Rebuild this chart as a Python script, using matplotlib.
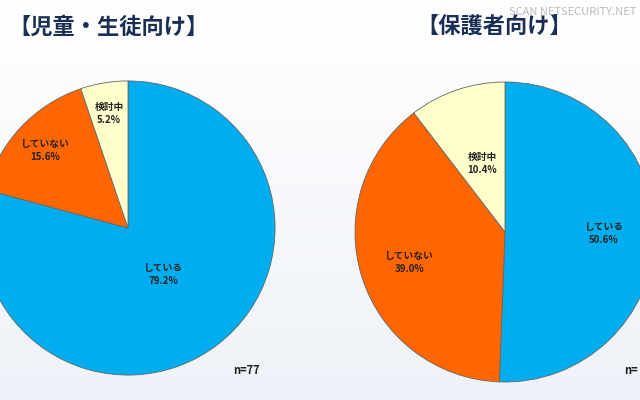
import numpy as np
import matplotlib
matplotlib.use("Agg")
import matplotlib.pyplot as plt

plt.rcParams["font.family"] = "Noto Sans CJK JP"

categories = ["している", "していない", "検討中"]
student_vals = [79.2, 15.6, 5.2]
parent_vals = [50.6, 39.0, 10.4]
student_n = "n=77"
parent_n = "n="
colors = ["#00AEEF", "#FF6600", "#FFFFCC"]

fig = plt.figure(figsize=(6.4, 4.0), dpi=100)
bg = fig.add_axes([0, 0, 1, 1], zorder=-10)
grad = np.linspace(0, 1, 256).reshape(-1, 1)
bg.imshow(grad, aspect="auto", cmap=matplotlib.colors.LinearSegmentedColormap.from_list("g", ["#FFFFFF", "#EEF2F8"]), extent=[0, 1, 0, 1])
bg.axis("off")

def px_axes(cx, cy, r):
    return fig.add_axes([(cx - r) / 640, (400 - cy - r) / 400, 2 * r / 640, 2 * r / 400])

def draw(ax, vals, dists):
    wedges, _ = ax.pie(vals, colors=colors, startangle=90, counterclock=False,
                       wedgeprops=dict(edgecolor="#666666", linewidth=0.6))
    for w, cat, v, d in zip(wedges, categories, vals, dists):
        ang = np.deg2rad((w.theta1 + w.theta2) / 2)
        ax.text(d * np.cos(ang), d * np.sin(ang), f"{cat}\n{v:.1f}%", ha="center", va="center",
                fontsize=7, fontweight="bold", color="#222222", linespacing=1.4)
    ax.set_xlim(-1.02, 1.02); ax.set_ylim(-1.02, 1.02)
    ax.set_aspect("equal")

ax1 = px_axes(128, 228, 150)
draw(ax1, student_vals, [0.4, 0.77, 0.79])
ax2 = px_axes(505, 232, 153)
draw(ax2, parent_vals, [0.66, 0.67, 0.48])

fig.text(8 / 640, 1 - 27 / 400, "【児童・生徒向け】", fontsize=16, fontweight="bold", color="#1A2F55", va="center")
fig.text(416 / 640, 1 - 27 / 400, "【保護者向け】", fontsize=16, fontweight="bold", color="#1A2F55", va="center")
fig.text(233 / 640, 1 - 370 / 400, student_n, fontsize=8, fontweight="bold", color="#222222", va="center")
fig.text(638 / 640, 1 - 370 / 400, parent_n, fontsize=8, fontweight="bold", color="#222222", va="center", ha="right")
fig.text(636 / 640, 1 - 12 / 400, "SCAN NETSECURITY.NET", fontsize=8, color="#BBBBBB", ha="right", va="center")

fig.savefig("out.png", dpi=100)
